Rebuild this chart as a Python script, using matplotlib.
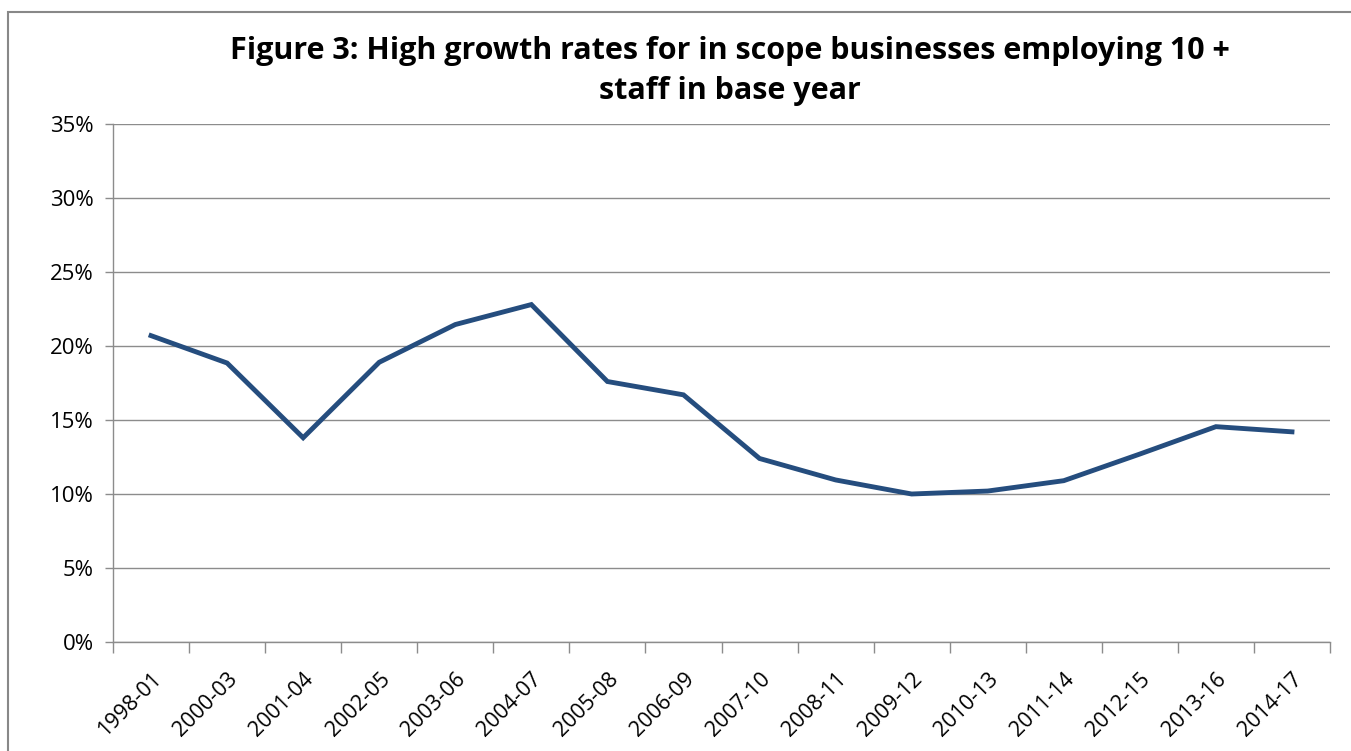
import numpy as np
import matplotlib.pyplot as plt
from matplotlib.patches import Rectangle
from matplotlib.ticker import FixedLocator, FuncFormatter, NullFormatter

periods = ["1998-01", "2000-03", "2001-04", "2002-05", "2003-06", "2004-07",
           "2005-08", "2006-09", "2007-10", "2008-11", "2009-12", "2010-13",
           "2011-14", "2012-15", "2013-16", "2014-17"]
growth = [20.7, 18.85, 13.8, 18.9, 21.45, 22.8, 17.6, 16.7,
          12.4, 10.95, 10.0, 10.2, 10.9, 12.7, 14.55, 14.2]
yticks = [0, 5, 10, 15, 20, 25, 30, 35]

title = "Figure 3: High growth rates for in scope businesses employing 10 +\nstaff in base year"

plt.rcParams['font.family'] = ['Open Sans', 'DejaVu Sans']
grey = "#8c8c8c"

fig = plt.figure(figsize=(13.51, 7.51), dpi=100)
# chart frame (only left/top edges are inside the image)
fig.patches.append(Rectangle((8 / 1351, -0.05), 1.2, 1 - 12 / 751 + 0.05,
                             transform=fig.transFigure, fill=False,
                             edgecolor="#888888", linewidth=1.5))

ax = fig.add_axes([113 / 1351, 1 - 642 / 751, (1330 - 113) / 1351, (642 - 124) / 751])

x = np.arange(len(periods))
ax.plot(x, growth, color="#254d7e", linewidth=3.5, solid_joinstyle="miter")

ax.set_xlim(-0.5, len(periods) - 0.5)
ax.set_ylim(0, 35)
ax.set_yticks(yticks)
ax.yaxis.set_major_formatter(FuncFormatter(lambda v, p: f"{v:.0f}%"))
ax.grid(axis="y", color=grey, linewidth=1)
ax.set_axisbelow(True)

# category boundaries carry the tick marks, labels sit at the centres
ax.xaxis.set_major_locator(FixedLocator(np.arange(len(periods) + 1) - 0.5))
ax.xaxis.set_major_formatter(NullFormatter())
ax.xaxis.set_minor_locator(FixedLocator(x))
ax.set_xticklabels(periods, minor=True, rotation=45, ha="right", va="top",
                   rotation_mode="anchor", fontsize=15.5)
ax.tick_params(axis="x", which="minor", length=0, pad=19)
ax.tick_params(axis="x", which="major", length=8, color=grey, width=1)
ax.tick_params(axis="y", length=6, color=grey, width=1, labelsize=16, pad=8)

for s in ["top", "right"]:
    ax.spines[s].set_visible(False)
for s in ["left", "bottom"]:
    ax.spines[s].set_color(grey)
    ax.spines[s].set_linewidth(1)

fig.text(0.54, 1 - 71 / 751, title, ha="center", va="center", fontsize=22,
         fontweight="bold", linespacing=1.4)

fig.savefig("out.png", dpi=100)
